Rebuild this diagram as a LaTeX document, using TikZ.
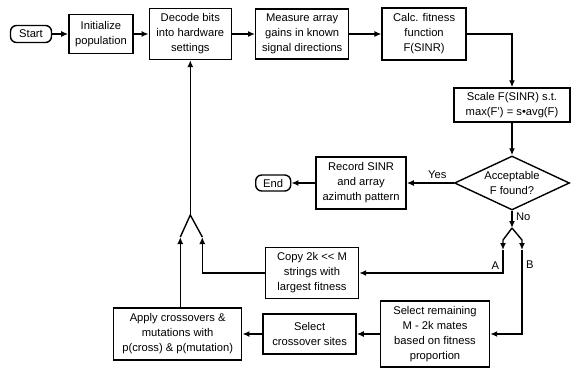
\documentclass[tikz,border=0pt]{standalone}
\usepackage{fontspec}
\setmainfont{Liberation Sans}
\usetikzlibrary{arrows.meta}
\usetikzlibrary{shapes.geometric}
\usetikzlibrary{positioning}
\tikzset{
  ->,
  >={Latex[length=7pt,width=6pt]},
  x = 1pt,
  y = -1pt,
  box/.style = {draw, rectangle, align=center, inner sep=1pt},
  term/.style = {box, rounded corners=6pt},
  test/.style = {box, diamond, aspect=2.1, inner sep=0pt},
}

\begin{document}
\begin{tikzpicture}[line width=1.4pt, font=\fontsize{11.2}{15}\selectfont]
    \useasboundingbox (0,0) rectangle (571,369);
    % top row
    \node [term, minimum width=41pt, minimum height=17pt] (start) at (31,34) {Start};
    \node [box, minimum width=64pt, minimum height=39pt, right=16pt of start] (init) {Initialize\\population};
    \node [box, minimum width=82pt, minimum height=51pt, right=15pt of init] (decode) {Decode bits\\into hardware\\settings};
    \node [box, minimum width=93pt, minimum height=50pt, right=23pt of decode] (measure) {Measure array\\gains in known\\signal directions};
    \node [box, minimum width=84pt, minimum height=52pt, right=32pt of measure] (calc) {Calc. fitness\\function\\F(SINR)};
    % right column
    \node [box, minimum width=116pt, minimum height=34pt] (scale) at (512,105) {Scale F(SINR) s.t.\\max(F') = s•avg(F)};
    \node [test, minimum width=115pt, minimum height=54pt] (accept) at (512,183) {Acceptable\\F found?};
    \node [box, minimum width=90pt, minimum height=52pt, left=47pt of accept] (record) {Record SINR\\and array\\azimuth pattern};
    \node [term, minimum width=35pt, minimum height=16pt, left=24pt of record] (end) {End};
    % bottom rows
    \node [box, minimum width=93pt, minimum height=51pt] (copy) at (312,273) {Copy 2k {<}{<} M\\strings with\\largest fitness};
    \node [box, minimum width=109pt, minimum height=66pt] (mates) at (435,334) {Select remaining\\M - 2k mates\\based on fitness\\proportion};
    \node [box, minimum width=93pt, minimum height=40pt, left=23pt of mates] (sites) {Select\\crossover sites};
    \node [box, minimum width=128pt, minimum height=52pt, left=20pt of sites] (apply) {Apply crossovers \&\\mutations with\\p(cross) \& p(mutation)};
    % split and merge points
    \coordinate (split) at (512,228);
    \coordinate (splitA) at (503,250);
    \coordinate (splitB) at (522,250);
    \coordinate (merge) at (decode.south |- 0,215);
    \coordinate (mergeL) at ([xshift=-10pt]merge |- 0,237);
    \coordinate (mergeR) at ([xshift=12pt]merge |- 0,237);
    \draw (start) -- (init);
    \draw (init) -- (decode);
    \draw (decode) -- (measure);
    \draw (measure) -- (calc);
    \draw (calc) -| (scale);
    \draw (scale) -- (accept);
    \draw (accept) -- node [above, pos=0.35] {Yes} (record);
    \draw (record) -- (end);
    \draw (accept) -- node [right, pos=0.35] {No} (split);
    \draw (split) -- ++(-9,12) -- (splitA);
    \draw (split) -- ++(10,12) -- (splitB);
    \draw (splitA) |- node [left, pos=0.33] {A} (copy);
    \draw (splitB) |- node [right, pos=0.09] {B} (mates);
    \draw (mates) -- (sites);
    \draw (sites) -- (apply);
    \draw (mergeL |- apply.north) -- (mergeL);
    \draw (copy) -| (mergeR);
    \draw [-] (mergeL) -- (merge) -- (mergeR);
    \draw (merge) -- (decode.south);
  \end{tikzpicture}
\end{document}
